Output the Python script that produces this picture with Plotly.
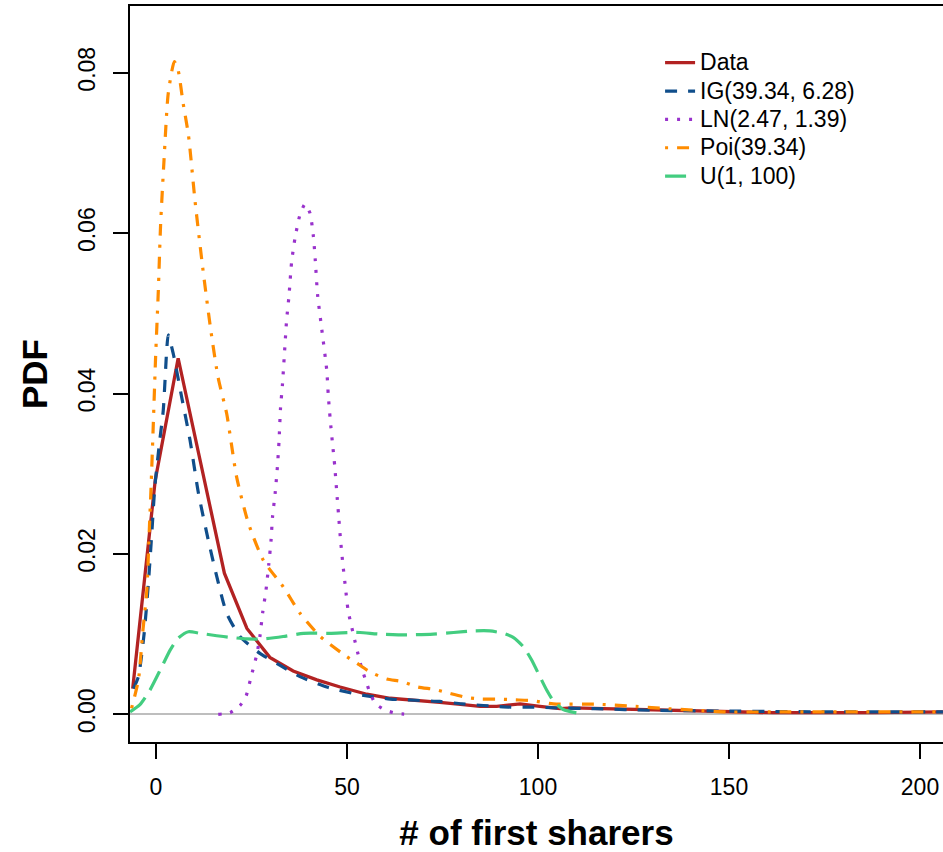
import plotly.graph_objects as go

# ---- data ----
data_x = [-6.1, -0.2, 5.8, 11.9, 17.9, 23.8, 29.8, 35.9, 42.1, 48.2, 55.2, 61.3, 67.8, 74.3,
          80.4, 84.8, 89.2, 95.3, 100.5, 105.8, 109, 126.7, 144, 161.5, 187.7, 206]
data_y = [0.0032, 0.0292, 0.0444, 0.031, 0.0176, 0.0107, 0.0071, 0.0054, 0.0043, 0.0034, 0.0025,
          0.002, 0.0018, 0.0015, 0.0012, 0.001, 0.001, 0.0013, 0.001, 0.0007, 0.0008, 0.0006,
          0.00037, 0.0002, 0.0002, 0.0003]

ig_x = [-5.9, -4.6, -3.1, -2.0, -1.1, -0.3, 0.9, 1.9, 2.8, 3.2, 4.5, 6.7, 8.9, 11.1, 13.7, 15.9,
        18.5, 22, 27.2, 32.5, 37.7, 44.7, 51.7, 55.2, 61.3, 67.8, 74.3, 80, 85.7, 92.7, 98.8,
        104.9, 115, 130, 150, 175, 206]
ig_y = [0.0032, 0.0047, 0.0101, 0.0163, 0.0226, 0.0284, 0.0338, 0.0379, 0.0454, 0.0473, 0.045,
        0.0396, 0.0342, 0.0276, 0.0217, 0.0172, 0.0126, 0.0097, 0.0076, 0.0061, 0.0047, 0.0034,
        0.0026, 0.0023, 0.0019, 0.00175, 0.0016, 0.0013, 0.0011, 0.0009, 0.0009, 0.0008, 0.0007,
        0.0005, 0.0004, 0.0003, 0.0003]

ln_x = [16.3, 19.4, 22, 23.6, 24.8, 26.4, 27.2, 27.9, 28.8, 29.5, 30.1, 30.5, 31.2, 31.8, 32.2,
        32.6, 33.1, 33.6, 34.2, 34.8, 35.5, 36.4, 37.7, 39, 40.3, 41.2, 41.7, 42.3, 43.4, 44.7,
        45.1, 45.6, 46.2, 46.8, 47.3, 47.8, 48.3, 48.9, 49.6, 50.3, 51.7, 53.1, 54, 55, 56, 57.5,
        60.1, 63.2, 66.2]
ln_y = [0, 0.0002, 0.0011, 0.0023, 0.0045, 0.0075, 0.0097, 0.0126, 0.0155, 0.0186, 0.0216,
        0.0246, 0.0276, 0.031, 0.034, 0.0382, 0.0411, 0.0448, 0.0492, 0.0521, 0.0564, 0.0594,
        0.0623, 0.0636, 0.0625, 0.0596, 0.0566, 0.0523, 0.048, 0.0429, 0.0398, 0.0368, 0.0338,
        0.0309, 0.0278, 0.0248, 0.0218, 0.0188, 0.0158, 0.0129, 0.0099, 0.0071, 0.0055, 0.0041,
        0.0027, 0.0013, 0.0005, 0.0001, 0]

poi_x = [-6.4, -4.6, -3.5, -2.4, -1.75, -1.3, -0.7, -0.1, 0.6, 1.2, 2.1, 3.2, 4.8, 5.8, 7.1, 8.5,
         10.2, 12.2, 14.4, 16.3, 18.5, 21.1, 24.2, 28.1, 33.3, 37.7, 43, 49.9, 52.5, 56, 60.4,
         64.3, 68.6, 73, 77, 81.3, 85.3, 89.6, 94, 98.3, 104, 115.4, 123.7, 132.4, 141, 149.4,
         165, 185, 206]
poi_y = [0.00075, 0.0043, 0.0101, 0.0155, 0.023, 0.0282, 0.0363, 0.0446, 0.0527, 0.061, 0.0691,
         0.0774, 0.0814, 0.0803, 0.0762, 0.0722, 0.0641, 0.0558, 0.0477, 0.0419, 0.0375, 0.0296,
         0.0238, 0.0192, 0.0159, 0.0126, 0.0097, 0.0072, 0.0064, 0.0053, 0.0044, 0.0041, 0.0034,
         0.0031, 0.0026, 0.0021, 0.0019, 0.0019, 0.0018, 0.0017, 0.0013, 0.00125, 0.00104,
         0.00075, 0.0005, 0.0003, 0.0003, 0.0003, 0.0003]

u_x = [-6.8, -4.2, -1.6, 1.5, 3.7, 5.8, 8.5, 11.5, 15.9, 19.4, 23.7, 28.1, 33.3, 38.6, 45.5, 50.8,
       53.4, 58.6, 65.6, 72.6, 77.9, 83.1, 87.4, 90.9, 93.5, 96.2, 98.3, 100.5, 102.3, 104,
       106.6, 111]
u_y = [0.0003, 0.0012, 0.003, 0.0059, 0.008, 0.0095, 0.0103, 0.0101, 0.0098, 0.0096, 0.0094,
       0.0094, 0.0097, 0.0101, 0.0101, 0.0102, 0.0102, 0.01, 0.0099, 0.01, 0.0102, 0.0104,
       0.0104, 0.0101, 0.0096, 0.0084, 0.0068, 0.0047, 0.003, 0.0017, 0.0006, 0.0001]

names = ["Data", "IG(39.34, 6.28)", "LN(2.47, 1.39)", "Poi(39.34)", "U(1, 100)"]
x_ticks = [0, 50, 100, 150, 200]
y_ticks = [0.00, 0.02, 0.04, 0.06, 0.08]
y_tick_text = ["0.00", "0.02", "0.04", "0.06", "0.08"]

FONT = "Liberation Sans, Arial, Helvetica, sans-serif"


def leg(name):
    return '<span style="font-size:23px">' + name + '</span>'


fig = go.Figure()
fig.add_trace(go.Scatter(x=data_x, y=data_y, mode="lines", name=leg(names[0]),
                         line=dict(color="#B22222", width=3.3)))
fig.add_trace(go.Scatter(x=ig_x, y=ig_y, mode="lines", name=leg(names[1]),
                         line=dict(color="#104E8B", width=3.2, dash="12px,11px", shape="spline",
                                   smoothing=0.6)))
fig.add_trace(go.Scatter(x=ln_x, y=ln_y, mode="lines", name=leg(names[2]),
                         line=dict(color="#9932CC", width=3.2, dash="3px,9px", shape="spline",
                                   smoothing=0.6)))
fig.add_trace(go.Scatter(x=poi_x, y=poi_y, mode="lines", name=leg(names[3]),
                         line=dict(color="#FF8C00", width=3.2, dash="3px,9px,12px,9px",
                                   shape="spline", smoothing=0.6)))
fig.add_trace(go.Scatter(x=u_x, y=u_y, mode="lines", name=leg(names[4]),
                         line=dict(color="#43CD80", width=3.2, dash="21px,9px", shape="spline",
                                   smoothing=0.6)))

fig.update_layout(
    width=943, height=852,
    margin=dict(l=130, r=0, t=6, b=110),
    plot_bgcolor="white", paper_bgcolor="white",
    font=dict(family=FONT, size=23, color="black"),
    showlegend=True,
    legend=dict(x=0.652, xanchor="left", y=0.949, yanchor="top",
                bgcolor="rgba(0,0,0,0)", font=dict(size=19.5, family=FONT),
                tracegroupgap=0, itemwidth=30),
)
fig.update_xaxes(
    range=[-6.806, 206.02], tickmode="array", tickvals=x_ticks,
    ticks="outside", ticklen=15, tickwidth=2, tickcolor="black",
    showline=True, linecolor="black", linewidth=2, mirror=True,
    showgrid=False, zeroline=False, ticklabelstandoff=8,
    tickfont=dict(size=23, family=FONT),
    title=dict(text="<b># of first sharers</b>", font=dict(size=35, family=FONT), standoff=24),
)
fig.update_yaxes(
    range=[-0.003454, 0.08832], tickmode="array", tickvals=y_ticks, ticktext=y_tick_text,
    ticks="outside", ticklen=15, tickwidth=2, tickcolor="black", tickangle=-90,
    showline=True, linecolor="black", linewidth=2, mirror=False,
    showgrid=False, zeroline=True, zerolinecolor="#BEBEBE", zerolinewidth=2,
    ticklabelstandoff=9,
    tickfont=dict(size=23, family=FONT),
    title=dict(text="<b>PDF</b>", font=dict(size=35, family=FONT), standoff=16),
)

fig.write_html("out.html")
